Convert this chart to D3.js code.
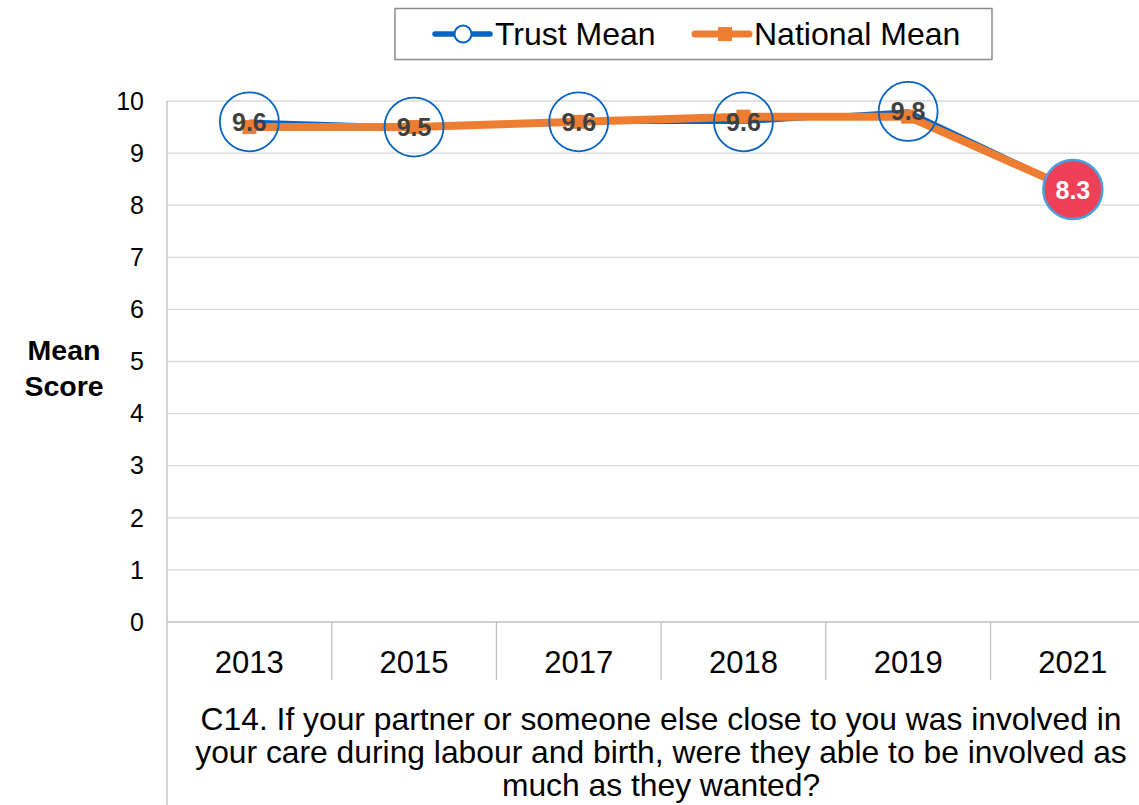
<!DOCTYPE html>
<html>
<head>
<meta charset="utf-8">
<script src="https://cdn.jsdelivr.net/npm/d3@7"></script>
<style>
  html, body { margin: 0; padding: 0; background: #fff; }
  svg { display: block; font-family: "Liberation Sans", Arial, sans-serif; }
</style>
</head>
<body>
<svg id="chart" width="1139" height="805"></svg>
<script>
// Survey years and mean scores
const years = ["2013", "2015", "2017", "2018", "2019", "2021"];
const trustMean = [9.6, 9.5, 9.6, 9.6, 9.8, 8.3];
const nationalMean = [9.5, 9.5, 9.6, 9.7, 9.7, 8.3];
const yTicks = [0, 1, 2, 3, 4, 5, 6, 7, 8, 9, 10];
const questionLines = [
  "C14. If your partner or someone else close to you was involved in",
  "your care during labour and birth, were they able to be involved as",
  "much as they wanted?"
];
// index of the point flagged as significantly lower
const flaggedIndex = 5;

const svg = d3.select("#chart");
const plotLeft = 167, bandW = 164.7, plotTop = 101, plotBottom = 622;

const x = d3.scaleBand().domain(years).range([plotLeft, plotLeft + bandW * years.length]).paddingInner(0).paddingOuter(0);
const y = d3.scaleLinear().domain([0, 10]).range([plotBottom, plotTop]);
const cx = d => x(d) + x.bandwidth() / 2;

// gridlines
svg.append("g").selectAll("line").data(yTicks).join("line")
  .attr("x1", plotLeft).attr("x2", 1139)
  .attr("y1", d => y(d)).attr("y2", d => y(d))
  .attr("stroke", d => d === 0 ? "#bfbfbf" : "#d9d9d9").attr("stroke-width", 1.3);

// y-axis line (continues down through the category label area)
svg.append("line").attr("x1", plotLeft).attr("x2", plotLeft).attr("y1", plotTop).attr("y2", 805)
  .attr("stroke", "#bfbfbf").attr("stroke-width", 1.3);

// category dividers
svg.append("g").selectAll("line").data(years.slice(1)).join("line")
  .attr("x1", d => x(d)).attr("x2", d => x(d))
  .attr("y1", plotBottom).attr("y2", 680)
  .attr("stroke", "#bfbfbf").attr("stroke-width", 1.3);

// y tick labels
svg.append("g").selectAll("text").data(yTicks).join("text")
  .attr("x", 144).attr("y", d => y(d)).attr("dy", "0.35em")
  .attr("text-anchor", "end").attr("font-size", 25).attr("fill", "#000")
  .text(d => d);

// y axis title
svg.append("text").attr("x", 64).attr("y", 360).attr("text-anchor", "middle")
  .attr("font-size", 28.5).attr("font-weight", "bold").text("Mean");
svg.append("text").attr("x", 64).attr("y", 396).attr("text-anchor", "middle")
  .attr("font-size", 28.5).attr("font-weight", "bold").text("Score");

// category labels
svg.append("g").selectAll("text").data(years).join("text")
  .attr("x", d => cx(d)).attr("y", 673).attr("text-anchor", "middle")
  .attr("font-size", 31).attr("fill", "#000").text(d => d);

// question text
svg.append("g").selectAll("text").data(questionLines).join("text")
  .attr("x", 661).attr("y", (d, i) => 730 + i * 33).attr("text-anchor", "middle")
  .attr("font-size", 31.8).attr("fill", "#000").text(d => d);

const line = d3.line().x((d, i) => cx(years[i])).y(d => y(d));

// trust line
svg.append("path").datum(trustMean).attr("d", line)
  .attr("fill", "none").attr("stroke", "#0563C1").attr("stroke-width", 4.5)
  .attr("stroke-linejoin", "round");

// national line and square markers
svg.append("path").datum(nationalMean).attr("d", line)
  .attr("fill", "none").attr("stroke", "#ED7D31").attr("stroke-width", 8)
  .attr("stroke-linejoin", "round");
svg.append("g").selectAll("rect").data(nationalMean).join("rect")
  .attr("x", (d, i) => cx(years[i]) - 7).attr("y", d => y(d) - 7)
  .attr("width", 14).attr("height", 14).attr("fill", "#ED7D31");

// trust markers with value labels
const pts = svg.append("g").selectAll("g").data(trustMean).join("g")
  .attr("transform", (d, i) => `translate(${cx(years[i])},${y(d)})`);
pts.append("circle").attr("r", 29.5)
  .attr("fill", (d, i) => i === flaggedIndex ? "#EE4157" : "rgba(255,255,255,0)")
  .attr("stroke", (d, i) => i === flaggedIndex ? "#4A9FE0" : "#0563C1")
  .attr("stroke-width", (d, i) => i === flaggedIndex ? 2.5 : 1.8);
pts.append("text").attr("text-anchor", "middle").attr("dy", "0.36em")
  .attr("font-size", 25).attr("font-weight", "bold")
  .attr("fill", (d, i) => i === flaggedIndex ? "#fff" : "#404040")
  .text(d => d.toFixed(1));

// legend
const lg = svg.append("g");
lg.append("rect").attr("x", 395).attr("y", 8.5).attr("width", 597).attr("height", 51)
  .attr("fill", "#fff").attr("stroke", "#8c8c8c").attr("stroke-width", 1.5);
lg.append("line").attr("x1", 435).attr("x2", 490).attr("y1", 34).attr("y2", 34)
  .attr("stroke", "#0563C1").attr("stroke-width", 5.5).attr("stroke-linecap", "round");
lg.append("circle").attr("cx", 463).attr("cy", 34).attr("r", 8.5)
  .attr("fill", "#fff").attr("stroke", "#0563C1").attr("stroke-width", 2);
lg.append("text").attr("x", 495).attr("y", 34).attr("dy", "0.35em")
  .attr("font-size", 32).text("Trust Mean");
lg.append("line").attr("x1", 695).attr("x2", 749).attr("y1", 34).attr("y2", 34)
  .attr("stroke", "#ED7D31").attr("stroke-width", 7).attr("stroke-linecap", "round");
lg.append("rect").attr("x", 718).attr("y", 27).attr("width", 14).attr("height", 14).attr("fill", "#ED7D31");
lg.append("text").attr("x", 754).attr("y", 34).attr("dy", "0.35em")
  .attr("font-size", 32).text("National Mean");
</script>
</body>
</html>
